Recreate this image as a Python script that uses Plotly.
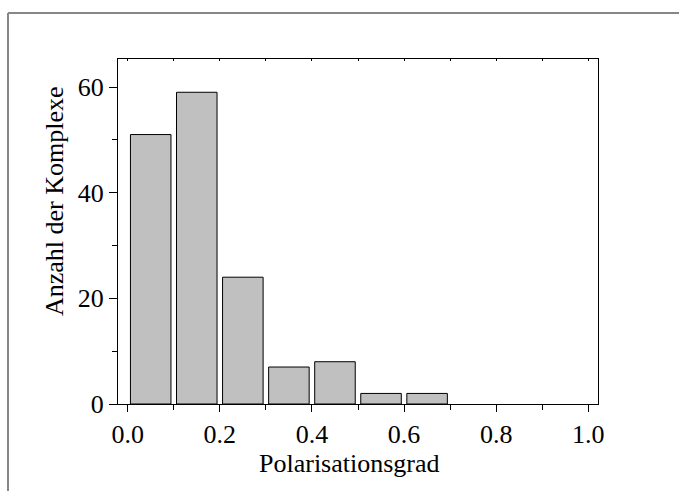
import plotly.graph_objects as go

# Histogram of polarisation degree (bin centres and counts)
bin_centers = [0.05, 0.15, 0.25, 0.35, 0.45, 0.55, 0.65, 0.75, 0.85, 0.95]
counts = [51, 59, 24, 7, 8, 2, 2, 0, 0, 0]

x_ticks = [0.0, 0.2, 0.4, 0.6, 0.8, 1.0]
x_ticklabels = ["0.0", "0.2", "0.4", "0.6", "0.8", "1.0"]
y_ticks = [0, 20, 40, 60]
y_ticklabels = ["0", "20", "40", "60"]

x_title = "Polarisationsgrad"
y_title = "Anzahl der Komplexe"

FONT = "Liberation Serif"
FS = 26

W, H = 679, 491
L, R, T, B = 118, 81, 59, 87
X_RANGE = [-0.021, 1.021]

# empty bins are not drawn
bx = [c for c, n in zip(bin_centers, counts) if n > 0]
by = [n for n in counts if n > 0]

fig = go.Figure()
fig.add_trace(go.Bar(
    x=bx, y=by, width=0.088,
    marker=dict(color="#c0c0c0", line=dict(color="#000000", width=1)),
    showlegend=False,
))
# invisible trace carrying the short inner ticks along the top edge
fig.add_trace(go.Scatter(x=[None], y=[None], xaxis="x2", showlegend=False,
                         hoverinfo="skip"))

pw = W - L - R
ph = H - T - B
def px_x(p):
    return (p - L) / pw
def px_y(p):
    return (H - B - p) / ph

fig.update_layout(
    width=W, height=H,
    margin=dict(l=L, r=R, t=T, b=B),
    paper_bgcolor="white", plot_bgcolor="white",
    font=dict(family=FONT, size=FS, color="black"),
    xaxis=dict(
        range=X_RANGE, tickvals=x_ticks, ticktext=x_ticklabels,
        ticks="outside", ticklen=7, tickwidth=1, tickcolor="black",
        minor=dict(dtick=0.1, tick0=0, ticks="outside", ticklen=5, tickcolor="black"),
        showline=True, linecolor="black", linewidth=1, mirror=True,
        showgrid=False, zeroline=False,
    ),
    xaxis2=dict(
        range=X_RANGE, overlaying="x", side="top", anchor="y",
        tick0=0, dtick=0.1, ticks="inside", ticklen=2, tickcolor="black",
        showticklabels=False, showline=False, showgrid=False, zeroline=False,
    ),
    yaxis=dict(
        range=[0, 65.3], tickvals=y_ticks, ticktext=y_ticklabels,
        ticks="outside", ticklen=8, tickwidth=1, tickcolor="black",
        minor=dict(dtick=10, tick0=0, ticks="outside", ticklen=5, tickcolor="black"),
        showline=True, linecolor="black", linewidth=1, mirror=True,
        showgrid=False, zeroline=False,
    ),
    annotations=[
        dict(text=x_title, xref="paper", yref="paper", x=px_x(349), y=px_y(463),
             xanchor="center", yanchor="middle", showarrow=False,
             font=dict(family=FONT, size=FS)),
        dict(text=y_title, xref="paper", yref="paper", x=px_x(54), y=px_y(201),
             xanchor="center", yanchor="middle", showarrow=False, textangle=-90,
             font=dict(family=FONT, size=FS)),
    ],
)

# grey page frame along the left and top edges
frame = dict(color="#878787", width=2)
fig.add_shape(type="line", xref="paper", yref="paper",
              x0=px_x(8), x1=px_x(8), y0=px_y(13), y1=px_y(H + 5), line=frame)
fig.add_shape(type="line", xref="paper", yref="paper",
              x0=px_x(8), x1=px_x(W + 5), y0=px_y(13), y1=px_y(13), line=frame)

fig.write_html("out.html")
